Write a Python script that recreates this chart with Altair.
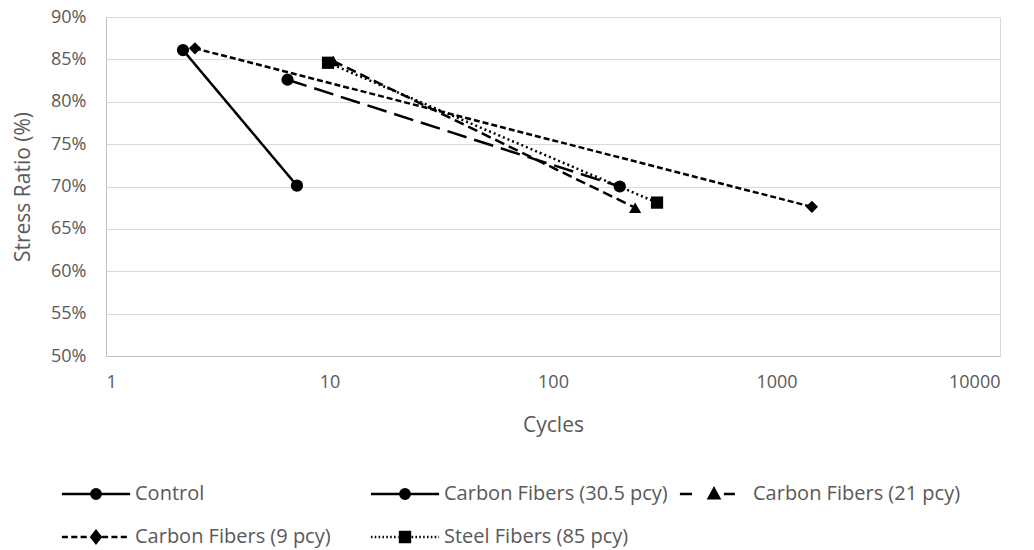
import altair as alt
import pandas as pd

# ---- data ----
series_names = ["Control", "Carbon Fibers (30.5 pcy)", "Carbon Fibers (21 pcy)",
                "Carbon Fibers (9 pcy)", "Steel Fibers (85 pcy)"]
control_cycles = [2.21, 7.15]
control_ratio = [0.861, 0.701]
cf305_cycles = [6.49, 199]
cf305_ratio = [0.826, 0.700]
cf21_cycles = [10.4, 233]
cf21_ratio = [0.848, 0.675]
cf9_cycles = [2.50, 1440]
cf9_ratio = [0.863, 0.676]
steel_cycles = [9.85, 292]
steel_ratio = [0.846, 0.681]

x_ticks = [1, 10, 100, 1000, 10000]
y_ticks = [0.50, 0.55, 0.60, 0.65, 0.70, 0.75, 0.80, 0.85, 0.90]

rows = []
for name, cx, cy in zip(series_names,
                        [control_cycles, cf305_cycles, cf21_cycles, cf9_cycles, steel_cycles],
                        [control_ratio, cf305_ratio, cf21_ratio, cf9_ratio, steel_ratio]):
    for a, b in zip(cx, cy):
        rows.append({"series": name, "cycles": a, "ratio": b})
df = pd.DataFrame(rows)

# ---- legend symbols (line + solid marker drawn by strokes), unit coordinates ----
def segs(dash, gap, start, end):
    out, p = [], start
    while p < end:
        q = min(p + dash, end)
        out.append(f"M{p:.2f},0L{q:.2f},0")
        p = q + gap
    return "".join(out)

def mirrored(dash, gap, inner, outer=6.2):
    right = segs(dash, gap, inner, outer)
    left = []
    p = -outer
    while p < -inner:
        q = min(p + dash, -inner)
        left.append(f"M{p:.2f},0L{q:.2f},0")
        p = q + gap
    return "".join(left) + right

def poly(pts, k):
    return "M" + "L".join(f"{x * k:.2f},{y * k:.2f}" for x, y in pts) + "Z"

def solid(pts, ks=(1.0, 0.6, 0.25)):
    return "".join(poly(pts, k) for k in ks)

def solid_circle(r=0.85, ks=(1.0, 0.55, 0.15)):
    out = ""
    for k in ks:
        rr = r * k
        out += f"M{-rr:.2f},0A{rr:.2f},{rr:.2f} 0 1,0 {rr:.2f},0A{rr:.2f},{rr:.2f} 0 1,0 {-rr:.2f},0Z"
    return out

circle = solid_circle()
triangle = solid([(0, -1.0), (0.95, 0.75), (-0.95, 0.75)])
diamond = solid([(0, -1.1), (0.85, 0), (0, 1.1), (-0.85, 0)])
square = solid([(-0.9, -0.9), (0.9, -0.9), (0.9, 0.9), (-0.9, 0.9)])

legend_paths = [
    "M-6.2,0L6.2,0" + circle,
    "M-6.2,0L6.2,0" + circle,
    "M-6.2,0L-4.0,0M1.8,0L3.8,0" + triangle,
    mirrored(1.1, 0.6, 1.1) + diamond,
    mirrored(0.28, 0.42, 1.2) + square,
]

FONT = "Open Sans"
GREY = "#595959"

base = alt.Chart(df)

lines = base.mark_line(color="black", strokeWidth=2.5).encode(
    x=alt.X("cycles:Q",
            scale=alt.Scale(type="log", domain=[1, 10000], nice=False),
            axis=alt.Axis(values=x_ticks, format="d", title="Cycles", grid=False,
                          ticks=False, labelPadding=17, titleY=69,
                          titleBaseline="middle")),
    y=alt.Y("ratio:Q",
            scale=alt.Scale(domain=[0.5, 0.9], nice=False, zero=False),
            axis=alt.Axis(values=y_ticks, format=".0%", title="Stress Ratio (%)",
                          ticks=False, labelPadding=20, titleX=-83,
                          titleBaseline="middle")),
    strokeDash=alt.StrokeDash("series:N",
                              scale=alt.Scale(domain=series_names,
                                              range=[[1, 0], [20, 8], [10, 5], [6, 3], [2, 3]]),
                              legend=None),
)

points = base.mark_point(filled=True, color="black", opacity=1, size=150).encode(
    x="cycles:Q",
    y="ratio:Q",
    shape=alt.Shape("series:N",
                    scale=alt.Scale(domain=series_names,
                                    range=["circle", "circle", "triangle-up", "diamond", "square"]),
                    legend=None),
)

legend_layer = base.transform_filter("false").mark_point(
    filled=False, color="black", strokeWidth=2.5, opacity=1, size=121
).encode(
    x="cycles:Q",
    y="ratio:Q",
    shape=alt.Shape("series:N",
                    scale=alt.Scale(domain=series_names, range=legend_paths),
                    legend=alt.Legend(title=None, orient="none", legendX=-20, legendY=466,
                                      direction="horizontal", columns=3, gridAlign="all",
                                      columnPadding=6, rowPadding=20, labelOffset=29,
                                      padding=0, symbolSize=121, symbolStrokeWidth=2.5,
                                      symbolStrokeColor="black", symbolOpacity=1,
                                      labelFont=FONT, labelFontSize=20, labelColor=GREY,
                                      labelLimit=400)),
)

chart = alt.layer(lines, points, legend_layer).resolve_scale(
    shape="independent"
).properties(
    width=894, height=339,
    autosize=alt.AutoSizeParams(type="none"),
    padding={"left": 106, "top": 17, "right": 34, "bottom": 194},
    background="white",
).configure_view(
    stroke="#d9d9d9", strokeWidth=1
).configure_axis(
    labelFont=FONT, labelFontSize=18, labelColor=GREY,
    titleFont=FONT, titleFontSize=21, titleFontWeight="normal", titleColor=GREY,
    domainColor="#bfbfbf", gridColor="#d9d9d9", gridWidth=1,
)

chart.save("out.html", embed_options={"renderer": "svg", "actions": False})
